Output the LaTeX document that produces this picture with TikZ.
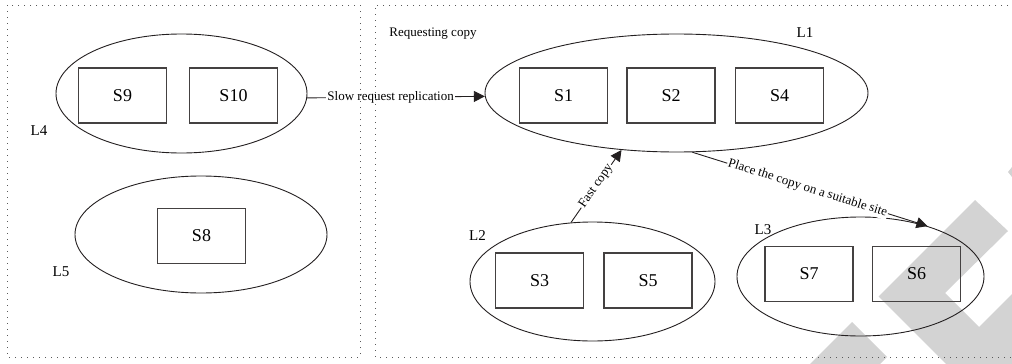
\documentclass[tikz,border=0pt]{standalone}
\usepackage{fontspec}
\setmainfont{Liberation Serif}
\usetikzlibrary{shapes.geometric,arrows.meta}
\definecolor{wm}{RGB}{211,211,211}
\definecolor{ln}{RGB}{35,31,32}
\begin{document}
\begin{tikzpicture}[x=1pt,y=-1pt,
  grp/.style={ellipse,draw=ln,line width=0.9pt,inner sep=0pt},
  srv/.style={rectangle,draw=ln!85,line width=1.1pt,minimum width=88pt,minimum height=55pt,inner sep=0pt,font=\fontsize{18}{20}\selectfont},
  lvl/.style={font=\fontsize{15}{17}\selectfont,inner sep=0pt},
  note/.style={font=\fontsize{13}{15}\selectfont,inner sep=1pt},
  conn/.style={draw=ln,line width=0.9pt},
  arr/.style={conn,-{Triangle[length=11pt,width=11pt]}},
  border/.style={draw=black!65,line width=1pt,dash pattern=on 1pt off 5pt}]
\useasboundingbox (0,0) rectangle (1012,364);
% watermark
\fill[wm] (975,200) -- (1008,231) -- (945,293) -- (979,327) -- (1012,294) -- (1012,364) -- (946,364) -- (878.5,296.5) -- cycle;
\fill[wm] (852,322) -- (887,357) -- (880,364) -- (810,364) -- cycle;
\fill[wm] (1008,172) -- (1012,167) -- (1012,177) -- cycle;
% groups
\node[grp,minimum width=251pt,minimum height=119pt] (L4) at (181.5,93.5) {};
\node[srv] (S9) at (122.5,95.5) {S9};
\node[srv] (S10) at (233.5,95.5) {S10};
\node[lvl] (L4lbl) at (39,131) {L4};
\node[grp,minimum width=252pt,minimum height=117pt] (L5) at (201,234.5) {};
\node[srv] (S8) at (201.5,236) {S8};
\node[lvl] (L5lbl) at (61,272) {L5};
\node[grp,minimum width=383pt,minimum height=118pt] (L1) at (676.5,93) {};
\node[srv] (S1) at (563.5,95.5) {S1};
\node[srv] (S2) at (671,95.5) {S2};
\node[srv] (S4) at (779.5,95.5) {S4};
\node[lvl] (L1lbl) at (805,33) {L1};
\node[grp,minimum width=245pt,minimum height=119pt] (L2) at (592.5,281.5) {};
\node[srv] (S3) at (539.5,280.5) {S3};
\node[srv] (S5) at (648,280.5) {S5};
\node[lvl] (L2lbl) at (477.5,236) {L2};
\node[grp,minimum width=247pt,minimum height=119pt] (L3) at (860.5,276.5) {};
\node[srv] (S7) at (809,274) {S7};
\node[srv] (S6) at (916.5,274) {S6};
\node[lvl] (L3lbl) at (763,230) {L3};
\node[note,inner sep=0pt] (req) at (433,34) {Requesting copy};
% connectors
\draw[arr] (L4.-2) -- node[note,fill=white,pos=0.47] {Slow request replication} (L1.181.5);
\draw[arr] (L2.110) -- node[note,fill=white,sloped,pos=0.5] {Fast copy} (L1.226);
\draw[arr] (L1.285.5) -- node[note,fill=white,sloped,pos=0.49] {Place the copy on a suitable site} (L3.37.7);
% borders
\draw[border] (7,5) rectangle (360,357);
\draw[border] (1014,5) -- (375,5) -- (375,357) -- (1014,357);
\end{tikzpicture}
\end{document}
